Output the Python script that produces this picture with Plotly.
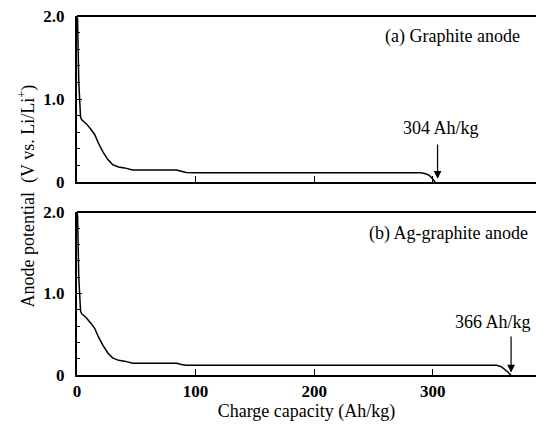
import plotly.graph_objects as go
from plotly.subplots import make_subplots

# Graphite anode (a)
cap_a = [0, 0.5, 1.5, 3, 4, 8, 12, 15, 18, 22, 26, 30, 35, 40, 47, 60, 84, 88, 92, 100, 150, 200, 250, 290, 294, 297, 299, 301, 302]
pot_a = [2.0, 1.95, 1.2, 0.78, 0.75, 0.70, 0.63, 0.57, 0.47, 0.36, 0.27, 0.21, 0.18, 0.17, 0.145, 0.145, 0.145, 0.13, 0.115, 0.11, 0.11, 0.11, 0.11, 0.11, 0.10, 0.08, 0.05, 0.02, 0.0]

# Ag-graphite anode (b)
cap_b = [0, 0.5, 1.5, 3, 4, 8, 12, 15, 18, 22, 26, 30, 35, 40, 47, 60, 84, 88, 92, 100, 150, 200, 250, 300, 354, 358, 361, 363, 365, 366]
pot_b = [2.0, 1.95, 1.2, 0.78, 0.75, 0.70, 0.63, 0.57, 0.47, 0.36, 0.27, 0.21, 0.18, 0.17, 0.145, 0.145, 0.145, 0.13, 0.12, 0.12, 0.12, 0.12, 0.12, 0.12, 0.12, 0.10, 0.07, 0.04, 0.01, 0.0]

x_ticks = [0, 100, 200, 300]
y_label_alias = {"0.0": "0"}

FONT = "Liberation Serif"

fig = make_subplots(rows=2, cols=1, shared_xaxes=False, vertical_spacing=0.0)

fig.add_trace(go.Scatter(x=cap_a, y=pot_a, mode="lines",
                         line=dict(color="black", width=1.5), showlegend=False), row=1, col=1)
fig.add_trace(go.Scatter(x=cap_b, y=pot_b, mode="lines",
                         line=dict(color="black", width=1.5), showlegend=False), row=2, col=1)

tick_font = dict(family=FONT, size=17, color="black", weight="bold")

common_x = dict(range=[0, 387], tickmode="array", tickvals=x_ticks, ticks="inside", ticklen=6, tickwidth=1,
                tickcolor="black", showline=True, linecolor="black", linewidth=2,
                mirror=False, showgrid=False, zeroline=False)
common_y = dict(range=[0, 2.0], tickmode="linear", tick0=0, dtick=1.0, tickformat=".1f",
                labelalias=y_label_alias, ticks="inside",
                ticklen=5, tickwidth=1, tickcolor="black", showline=True, linecolor="black",
                linewidth=2, showgrid=False, zeroline=False, ticklabelstandoff=7,
                minor=dict(dtick=0.2, ticks="inside", ticklen=3, tickcolor="black", showgrid=False),
                tickfont=tick_font)

fig.update_xaxes(**common_x, showticklabels=False, row=1, col=1)
fig.update_xaxes(**common_x, showticklabels=True, tickfont=tick_font,
                 title=dict(text="Charge capacity (Ah/kg)", font=dict(family=FONT, size=18, color="black"),
                            standoff=2), row=2, col=1)
fig.update_yaxes(**common_y, row=1, col=1)
fig.update_yaxes(**common_y, row=2, col=1)

fig.update_layout(
    width=536, height=424,
    margin=dict(l=77, r=0, t=16, b=49),
    plot_bgcolor="white", paper_bgcolor="white",
    yaxis=dict(domain=[0.5376, 1.0]),
    yaxis2=dict(domain=[0.0, 0.454]),
    font=dict(family=FONT, color="black"),
)

# top border lines
fig.add_shape(type="line", xref="x domain", yref="y domain", x0=0, x1=1, y0=1, y1=1,
              line=dict(color="black", width=2))
fig.add_shape(type="line", xref="x2 domain", yref="y2 domain", x0=0, x1=1, y0=1, y1=1,
              line=dict(color="black", width=2))

ann_font = dict(family=FONT, size=18, color="black")
fig.add_annotation(x=375, y=1.75, xref="x", yref="y", text="(a) Graphite anode",
                   showarrow=False, xanchor="right", font=ann_font)
fig.add_annotation(x=382, y=1.74, xref="x2", yref="y2", text="(b) Ag-graphite anode",
                   showarrow=False, xanchor="right", font=ann_font)

fig.add_annotation(x=307, y=0.65, xref="x", yref="y", text="304 Ah/kg",
                   showarrow=False, font=ann_font)
fig.add_annotation(x=304, y=0.04, ax=304, ay=0.47, xref="x", yref="y", axref="x", ayref="y",
                   text="", showarrow=True, arrowhead=2, arrowsize=1.3, arrowwidth=1.2, arrowcolor="black")

fig.add_annotation(x=351, y=0.65, xref="x2", yref="y2", text="366 Ah/kg",
                   showarrow=False, font=ann_font)
fig.add_annotation(x=366, y=0.03, ax=366, ay=0.49, xref="x2", yref="y2", axref="x2", ayref="y2",
                   text="", showarrow=True, arrowhead=2, arrowsize=1.3, arrowwidth=1.2, arrowcolor="black")

fig.add_annotation(x=-0.109, y=0.5, xref="paper", yref="paper", xanchor="center", yanchor="middle",
                   text="Anode potential  (V vs. Li/Li<sup>+</sup>)", textangle=-90,
                   showarrow=False, font=ann_font)

fig.write_html("out.html")
